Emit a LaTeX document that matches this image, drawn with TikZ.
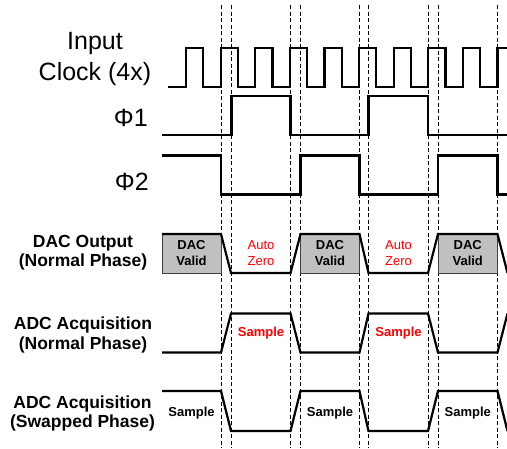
\documentclass[tikz,border=0pt]{standalone}
\usepackage{fontspec}
\setmainfont{Liberation Sans}
\usepackage{xcolor}
\usepackage{tikz}
\definecolor{validgray}{HTML}{C0C0C0}
\definecolor{azred}{HTML}{FF0000}

\begin{document}
\begin{tikzpicture}[x=1pt,y=-1pt,
  wave/.style={line width=2.2pt,line join=miter},
  guide/.style={line width=.7pt,dash pattern=on 4pt off 2.5pt},
  sig/.style={font=\fontsize{25}{31}\selectfont,align=center,inner sep=0pt},
  row/.style={font=\bfseries\fontsize{17.5}{19.5}\selectfont,align=center,inner sep=0pt},
  tag/.style={font=\fontsize{13}{16.5}\selectfont,align=center,inner sep=0pt},
  btag/.style={tag,font=\bfseries\fontsize{13}{16.5}\selectfont},
  valid/.style={fill=validgray,draw=black!75,line width=.6pt}]
 \useasboundingbox (0,0) rectangle (507,448);
 \foreach \x in {221,231,290.5,300.5,359.5,368.5,428,438,497.5,507.5}
   \draw[guide] (\x,5) -- (\x,448);
 \node[sig] (clk) at (95,58.5) {Input\\Clock (4x)};
 \node[sig,anchor=east] (phia) at (148,118) {Φ1};
 \node[sig,anchor=east] (phib) at (149,182) {Φ2};
 \node[row] (dac) at (83,252.5) {DAC Output\\(Normal Phase)};
 \node[row] (adcn) at (83,335) {ADC Acquisition\\(Normal Phase)};
 \node[row] (adcs) at (82.5,413.5) {ADC Acquisition\\(Swapped Phase)};
 \draw[wave] (168,87) foreach \k in {0,...,8}{
   -- ({186+34.6*\k},87) |- ({203.3+34.6*\k},48) -- ({203.3+34.6*\k},87)}
   -- (497.4,87) |- (507,48);
 \draw[wave] (162,135) -| (231.5,96) -| (290.5,135) -| (368.5,96) -| (428,135) -- (507,135);
 \draw[wave] (162,155.5) -| (221,194.5) -| (300.5,155.5) -| (359.5,194.5) -| (438,155.5) -| (497.5,194.5) -- (507,194.5);
 \foreach \a/\b in {162/221,300.5/359.5,438/497.5}
   \draw[valid] (\a,234) rectangle (\b,273);
 \draw[wave] (162,234) -- (221,234) -- (231,273) -- (290.5,273) -- (300.5,234) -- (359.5,234)
   -- (368.5,273) -- (428,273) -- (438,234) -- (497.5,234) -- (507.5,273);
 \draw[wave] (162,352.5) -- (221,352.5) -- (231,313.5) -- (290.5,313.5) -- (300.5,352.5) -- (359.5,352.5)
   -- (368.5,313.5) -- (428,313.5) -- (438,352.5) -- (497.5,352.5) -- (507.5,313.5);
 \draw[wave] (162,391) -- (221,391) -- (231,431) -- (290.5,431) -- (300.5,391) -- (359.5,391)
   -- (368.5,431) -- (428,431) -- (438,391) -- (497.5,391) -- (507.5,431);
 \foreach \x/\n in {191.5/1,330/2,467.75/3}{
   \node[btag] (valid\n) at (\x,253) {DAC\\Valid};
   \node[btag] (swap\n) at (\x,413) {Sample};
 }
 \foreach \x/\n in {261/1,398.5/2}{
   \node[tag,azred] (auto\n) at (\x,253) {Auto\\Zero};
   \node[btag,azred] (samp\n) at (\x,333) {Sample};
 }
\end{tikzpicture}
\end{document}
